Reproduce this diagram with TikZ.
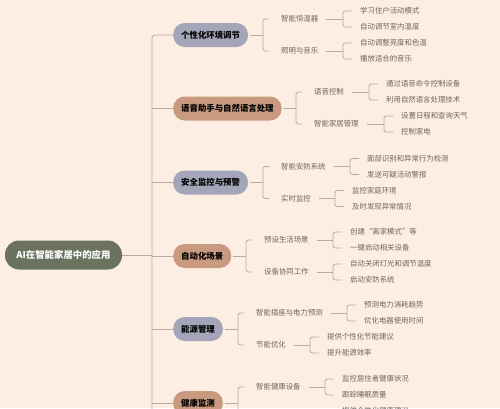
\documentclass[tikz,border=0pt]{standalone}
\usepackage{fontspec}
\setmainfont{Noto Sans CJK SC}
\usetikzlibrary{calc}
\definecolor{bg}{RGB}{252,238,226}
\definecolor{conncol}{RGB}{184,170,158}
\definecolor{rootcol}{RGB}{107,115,96}
\definecolor{bluecol}{RGB}{164,165,185}
\definecolor{tancol}{RGB}{201,154,128}
\definecolor{txtcol}{RGB}{112,100,92}
\tikzset{
  conn/.style={draw=conncol, line width=0.8pt},
  rootnode/.style={fill=rootcol, text=white, rounded corners=14pt, minimum width=117pt, minimum height=29pt, inner sep=0pt, font=\fontsize{9.4}{11}\selectfont\bfseries},
  lonebox/.style={rounded corners=11.5pt, minimum height=24pt, inner xsep=8pt, inner ysep=0pt, anchor=west, text=black, font=\fontsize{8.4}{10}\selectfont\bfseries},
  blue1/.style={lonebox, fill=bluecol},
  tan1/.style={lonebox, fill=tancol},
  ltwo/.style={anchor=west, inner sep=0pt, text=txtcol, font=\fontsize{7.4}{9}\selectfont},
}
\newcommand{\grp}[6]{%
  \draw[conn] ([xshift=#4]#1.east) -- ([xshift=-#6]#2.west |- #1.east);
  \draw[conn, rounded corners=2.5pt] ([xshift=-#5]#2.west) -| ([xshift=-#6]#2.west |- #1.east) |- ([xshift=-#5]#3.west);}
\begin{document}
\begin{tikzpicture}[x=1pt,y=-1pt]
\fill[bg] (0,0) rectangle (500,408);
\useasboundingbox (0,0) rectangle (500,408);
% root
\node[rootnode] (root) at (63.5,255) {AI在智能家居中的应用};
% level 1
\node[blue1] (n1) at (173,35) {个性化环境调节};
\node[tan1] (n2) at (173,108.5) {语音助手与自然语言处理};
\node[blue1] (n3) at (173,182.5) {安全监控与预警};
\node[tan1] (n4) at (173,256) {自动化场景};
\node[blue1] (n5) at (173,329) {能源管理};
\node[tan1] (n6) at (173,403) {健康监测};
\coordinate (tb) at (152,430);
\draw[conn, rounded corners=3pt] (n1.west) -| (tb);
\foreach \n in {n2,n3,n4,n5,n6} \draw[conn] (\n.west) -- (\n.west -| tb);
\draw[conn] (root.east) -- (root.east -| tb);
% row 1
\node[ltwo] (a1) at (281,19) {智能恒温器};
\node[ltwo] (a2) at (281,51) {照明与音乐};
\node[ltwo] (a11) at (360,11) {学习住户活动模式};
\node[ltwo] (a12) at (360,27) {自动调节室内温度};
\node[ltwo] (a21) at (360,43) {自动调整亮度和色温};
\node[ltwo] (a22) at (360,59) {播放适合的音乐};
% row 2
\node[ltwo] (b1) at (314,92) {语音控制};
\node[ltwo] (b2) at (314,124) {智能家居管理};
\node[ltwo] (b11) at (386,84) {通过语音命令控制设备};
\node[ltwo] (b12) at (386,100) {利用自然语言处理技术};
\node[ltwo] (b21) at (401,116) {设置日程和查询天气};
\node[ltwo] (b22) at (401,132) {控制家电};
% row 3
\node[ltwo] (c1) at (281,166.5) {智能安防系统};
\node[ltwo] (c2) at (281,198.5) {实时监控};
\node[ltwo] (c11) at (367,158.5) {面部识别和异常行为检测};
\node[ltwo] (c12) at (367,174.5) {发送可疑活动警报};
\node[ltwo] (c21) at (352,190.5) {监控家庭环境};
\node[ltwo] (c22) at (352,206.5) {及时发现异常情况};
% row 4
\node[ltwo] (d1) at (264,240) {预设生活场景};
\node[ltwo] (d2) at (264,272) {设备协同工作};
\node[ltwo] (d11) at (350,232) {创建“离家模式”等};
\node[ltwo] (d12) at (350,248) {一键启动相关设备};
\node[ltwo] (d21) at (350,264) {自动关闭灯光和调节温度};
\node[ltwo] (d22) at (350,280) {启动安防系统};
% row 5
\node[ltwo] (e1) at (256,313) {智能插座与电力预测};
\node[ltwo] (e2) at (256,345) {节能优化};
\node[ltwo] (e11) at (364,305) {预测电力消耗趋势};
\node[ltwo] (e12) at (364,321) {优化电器使用时间};
\node[ltwo] (e21) at (327,337) {提供个性化节能建议};
\node[ltwo] (e22) at (327,353) {提升能源效率};
% row 6
\node[ltwo] (f1) at (256,387) {智能健康设备};
\node[ltwo] (f2) at (256,419) {健康数据分析};
\node[ltwo] (f11) at (342,379) {监控居住者健康状况};
\node[ltwo] (f12) at (342,395) {跟踪睡眠质量};
\node[ltwo] (f21) at (342,411) {提供个性化健康建议};
\node[ltwo] (f22) at (342,427) {预防潜在健康问题};
% groups: level 1 -> level 2
\grp{n1}{a1}{a2}{2pt}{12pt}{18pt}
\grp{n2}{b1}{b2}{2pt}{12pt}{18pt}
\grp{n3}{c1}{c2}{2pt}{12pt}{18pt}
\grp{n4}{d1}{d2}{2pt}{12pt}{18pt}
\grp{n5}{e1}{e2}{2pt}{12pt}{18pt}
\grp{n6}{f1}{f2}{2pt}{12pt}{18pt}
% level 2 -> level 3
\grp{a1}{a11}{a12}{8pt}{8pt}{17pt}
\grp{a2}{a21}{a22}{8pt}{8pt}{17pt}
\grp{b1}{b11}{b12}{8pt}{8pt}{17pt}
\grp{b2}{b21}{b22}{8pt}{8pt}{17pt}
\grp{c1}{c11}{c12}{8pt}{8pt}{17pt}
\grp{c2}{c21}{c22}{8pt}{8pt}{17pt}
\grp{d1}{d11}{d12}{8pt}{8pt}{17pt}
\grp{d2}{d21}{d22}{8pt}{8pt}{17pt}
\grp{e1}{e11}{e12}{8pt}{8pt}{17pt}
\grp{e2}{e21}{e22}{8pt}{8pt}{17pt}
\grp{f1}{f11}{f12}{8pt}{8pt}{17pt}
\grp{f2}{f21}{f22}{8pt}{8pt}{17pt}
\end{tikzpicture}
\end{document}
